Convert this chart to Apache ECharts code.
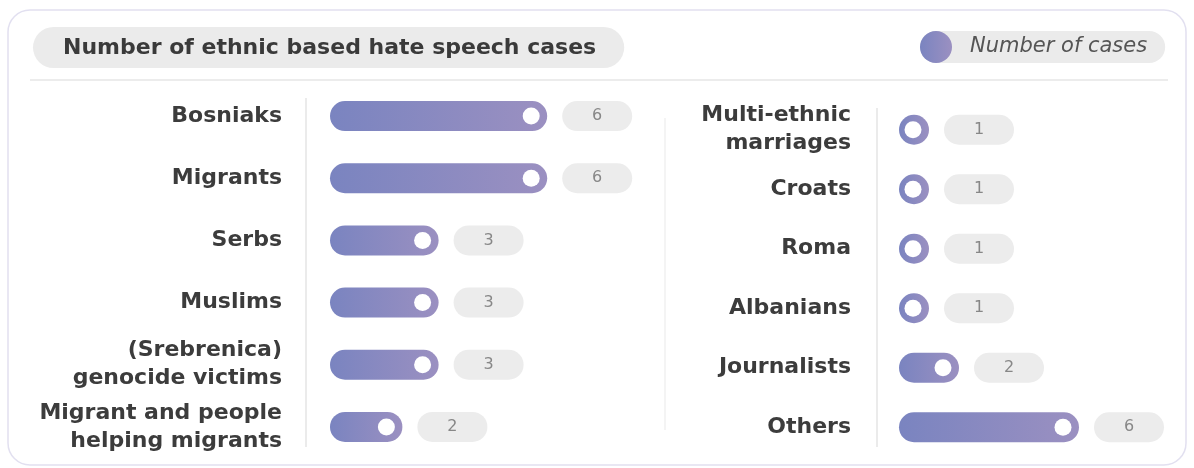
<!DOCTYPE html>
<html>
<head>
<meta charset="utf-8">
<script src="https://cdn.jsdelivr.net/npm/echarts@6/dist/echarts.min.js"></script>
<style>
html,body{margin:0;padding:0;background:#ffffff;}
#chart{width:1194px;height:468px;}
</style>
</head>
<body>
<div id="chart"></div>
<script>
const titleText = 'Number of ethnic based hate speech cases';
const seriesName = 'Number of cases';
const leftCategories = ['Bosniaks', 'Migrants', 'Serbs', 'Muslims', '(Srebrenica)\ngenocide victims', 'Migrant and people\nhelping migrants'];
const leftValues = [6, 6, 3, 3, 3, 2];
const rightCategories = ['Multi-ethnic\nmarriages', 'Croats', 'Roma', 'Albanians', 'Journalists', 'Others'];
const rightValues = [1, 1, 1, 1, 2, 6];

const FONT = 'DejaVu Sans';
const barGradient = new echarts.graphic.LinearGradient(0, 0, 1, 0, [
  { offset: 0, color: '#7a84c0' },
  { offset: 1, color: '#9b90c1' }
]);

function barSeries(idx, values) {
  return {
    name: seriesName,
    type: 'bar',
    xAxisIndex: idx,
    yAxisIndex: idx,
    data: values,
    barWidth: 30,
    itemStyle: { color: barGradient, borderRadius: 15 },
    label: {
      show: true,
      position: 'right',
      distance: 15,
      formatter: '{p|{c}}',
      rich: {
        p: {
          width: 70,
          height: 30,
          lineHeight: 30,
          align: 'center',
          backgroundColor: '#ececec',
          borderRadius: 15,
          color: '#878787',
          fontFamily: FONT,
          fontSize: 16
        }
      }
    },
    z: 2
  };
}
function dotSeries(idx, values) {
  return {
    name: 'dot' + idx,
    type: 'scatter',
    xAxisIndex: idx,
    yAxisIndex: idx,
    data: values,
    symbol: 'circle',
    symbolSize: 17,
    symbolOffset: [-16, 0],
    itemStyle: { color: '#ffffff', opacity: 1 },
    emphasis: { disabled: true },
    silent: true,
    z: 3
  };
}
function yAx(idx, cats) {
  return {
    type: 'category',
    gridIndex: idx,
    data: cats,
    inverse: true,
    axisLine: { show: false },
    axisTick: { show: false },
    axisLabel: {
      margin: 48,
      color: '#3c3c3c',
      fontFamily: FONT,
      fontWeight: 'bold',
      fontSize: 22,
      lineHeight: 28,
      align: 'right'
    }
  };
}
function xAx(idx, max) {
  return {
    type: 'value',
    gridIndex: idx,
    min: 0,
    max: max,
    show: false
  };
}

const chart = echarts.init(document.getElementById('chart'), null, { renderer: 'canvas' });
chart.setOption({
  animation: false,
  backgroundColor: '#ffffff',
  title: {
    text: titleText,
    left: 33,
    top: 27,
    padding: [9, 28, 8, 30],
    backgroundColor: '#ebebeb',
    borderRadius: 21,
    textStyle: { fontFamily: FONT, fontWeight: 'bold', fontSize: 22, color: '#3a3a3a', lineHeight: 24 }
  },
  legend: {
    data: [seriesName],
    left: 920,
    top: 31,
    icon: 'circle',
    itemWidth: 32,
    itemHeight: 32,
    backgroundColor: '#ebebeb',
    borderRadius: 16,
    padding: [0, 18, 0, 0],
    selectedMode: false,
    textStyle: { fontFamily: FONT, fontStyle: 'italic', fontSize: 21, color: '#555555', padding: [0, 0, 0, 13] }
  },
  graphic: [
    { type: 'rect', z: -10, shape: { x: 8, y: 10, width: 1178, height: 455, r: 22 }, style: { fill: '#ffffff', stroke: '#e2e0f0', lineWidth: 1.5 } },
    { type: 'line', z: -5, shape: { x1: 30, y1: 80, x2: 1168, y2: 80 }, style: { stroke: '#ececec', lineWidth: 2 } },
    { type: 'line', z: -5, shape: { x1: 306, y1: 98, x2: 306, y2: 447 }, style: { stroke: '#e4e4e4', lineWidth: 1.5 } },
    { type: 'line', z: -5, shape: { x1: 665, y1: 118, x2: 665, y2: 430 }, style: { stroke: '#f0f0f0', lineWidth: 1.5 } },
    { type: 'line', z: -5, shape: { x1: 877, y1: 108, x2: 877, y2: 447 }, style: { stroke: '#e4e4e4', lineWidth: 1.5 } }
  ],
  grid: [
    { left: 330, width: 362, top: 85, height: 373 },
    { left: 899, width: 240, top: 100, height: 357 }
  ],
  xAxis: [xAx(0, 10), xAx(1, 8)],
  yAxis: [yAx(0, leftCategories), yAx(1, rightCategories)],
  series: [
    barSeries(0, leftValues),
    dotSeries(0, leftValues),
    barSeries(1, rightValues),
    dotSeries(1, rightValues)
  ]
});
</script>
</body>
</html>
